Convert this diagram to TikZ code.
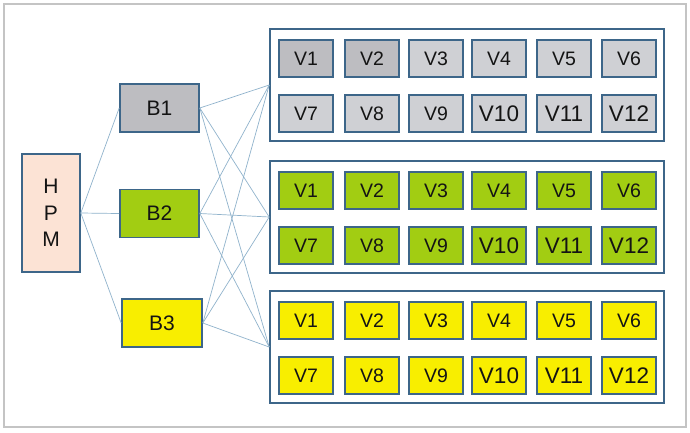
\documentclass[tikz,border=0pt]{standalone}
\usepackage{fontspec}
\setmainfont{Liberation Sans}
\definecolor{frame}{HTML}{C4C4C4}
\definecolor{edge}{HTML}{3D6689}
\definecolor{wire}{HTML}{90B3CC}
\definecolor{greyA}{HTML}{BDBDC1}
\definecolor{greyB}{HTML}{CFD0D4}
\definecolor{greenF}{HTML}{A2CD12}
\definecolor{yellowF}{HTML}{F8EE00}
\definecolor{peach}{HTML}{FCE3D5}
\definecolor{ink}{HTML}{141414}
\tikzset{
  box/.style={draw=edge, line width=1.6pt, rectangle, inner sep=0pt, text=ink},
  bnode/.style={box, minimum width=79pt, minimum height=48pt, font=\fontsize{21}{21}\selectfont},
  grp/.style={draw=edge, line width=1.6pt, fill=white, rectangle, inner sep=0pt, minimum width=394pt, minimum height=112pt},
  vbox/.style={box, minimum width=54pt, minimum height=37pt, font=\fontsize{19.5}{19.5}\selectfont},
  vbig/.style={font=\fontsize{22.5}{22.5}\selectfont},
  wireline/.style={draw=wire, line width=0.7pt}
}
\begin{document}
\begin{tikzpicture}[x=1pt,y=-1pt]
\useasboundingbox (0,0) rectangle (690,432);
\fill[white] (0,0) rectangle (690,432);
\draw[frame, line width=1.4pt] (4,4) rectangle (686,427);

\node[box, fill=peach, minimum width=58pt, minimum height=118pt, align=center,
  font=\fontsize{21}{26.5}\selectfont] (hpm) at (51,213) {H\\P\\M};
\node[bnode, fill=greyA] (b1) at (159.5,108) {B1};
\node[bnode, fill=greenF] (b2) at (159.5,213.5) {B2};
\node[bnode, fill=yellowF, minimum width=80pt] (b3) at (162,323) {B3};

\node[grp] (g1) at (467,85) {};
\node[grp] (g2) at (467,217) {};
\node[grp] (g3) at (467,347) {};

\foreach \g/\ya/\yb/\fa/\fb in {1/58.5/113.5/greyA/greyB, 2/190.5/245.5/greenF/greenF, 3/320.5/375.5/yellowF/yellowF}{
  \node[vbox, fill=\fa] (g\g v1) at (306,\ya) {V1};
  \node[vbox, fill=\fa] (g\g v2) at (372,\ya) {V2};
  \node[vbox, fill=\fb] (g\g v3) at (436,\ya) {V3};
  \node[vbox, fill=\fb] (g\g v4) at (499,\ya) {V4};
  \node[vbox, fill=\fb] (g\g v5) at (564,\ya) {V5};
  \node[vbox, fill=\fb] (g\g v6) at (629,\ya) {V6};
  \node[vbox, fill=\fb] (g\g v7) at (306,\yb) {V7};
  \node[vbox, fill=\fb] (g\g v8) at (372,\yb) {V8};
  \node[vbox, fill=\fb] (g\g v9) at (436,\yb) {V9};
  \node[vbox, vbig, fill=\fb] (g\g v10) at (499,\yb) {V10};
  \node[vbox, vbig, fill=\fb] (g\g v11) at (564,\yb) {V11};
  \node[vbox, vbig, fill=\fb] (g\g v12) at (629,\yb) {V12};
}

\foreach \b in {b1,b2,b3}{
  \draw[wireline] (hpm.east) -- (\b.west);
  \foreach \g in {g1,g2,g3}{
    \draw[wireline] (\b.east) -- (\g.west);
  }
}
\end{tikzpicture}
\end{document}
